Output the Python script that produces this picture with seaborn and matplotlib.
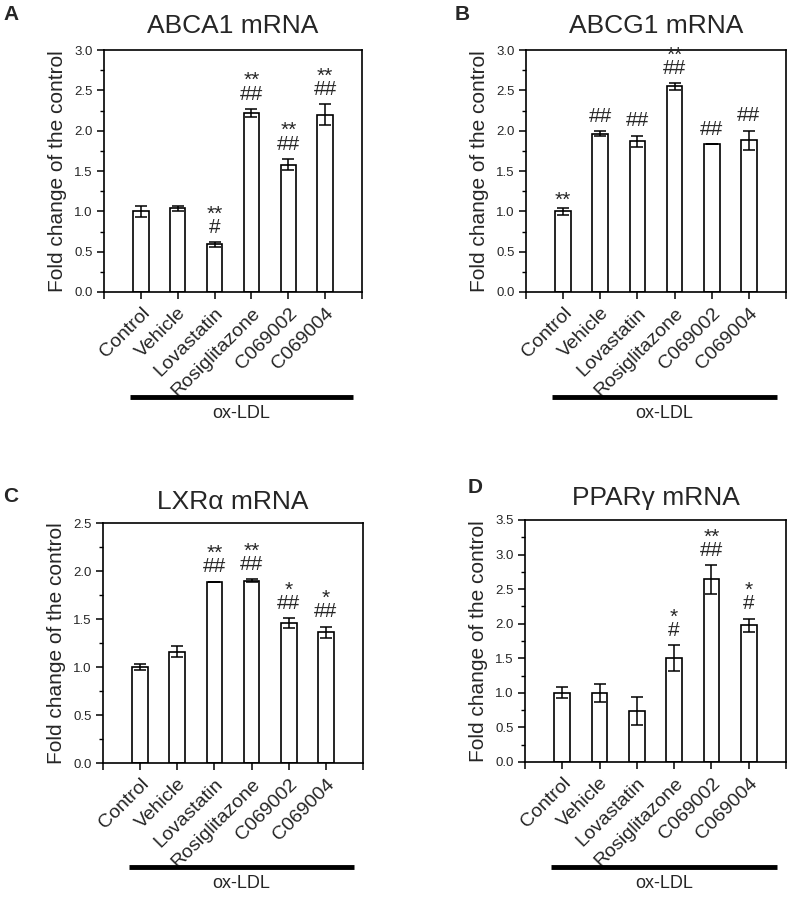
import matplotlib
matplotlib.use("Agg")
import matplotlib.pyplot as plt
import matplotlib.transforms as mtransforms
from matplotlib.ticker import MultipleLocator, FixedLocator
from matplotlib import font_manager
import seaborn as sns
import pandas as pd
import numpy as np

# ---------------- data ----------------
categories = ["Control", "Vehicle", "Lovastatin", "Rosiglitazone", "C069002", "C069004"]

abca1_mean = [1.00, 1.04, 0.59, 2.22, 1.58, 2.20]
abca1_err = [0.07, 0.03, 0.03, 0.05, 0.07, 0.13]
abca1_sig = ["", "", "**\n#", "**\n##", "**\n##", "**\n##"]

abcg1_mean = [1.00, 1.96, 1.87, 2.55, 1.83, 1.88]
abcg1_err = [0.04, 0.03, 0.07, 0.04, 0.0, 0.12]
abcg1_sig = ["**", "##", "##", "**\n##", "##", "##"]

lxra_mean = [1.00, 1.16, 1.89, 1.90, 1.46, 1.36]
lxra_err = [0.03, 0.06, 0.0, 0.015, 0.05, 0.06]
lxra_sig = ["", "", "**\n##", "**\n##", "*\n##", "*\n##"]

pparg_mean = [1.00, 1.00, 0.74, 1.50, 2.64, 1.98]
pparg_err = [0.08, 0.13, 0.20, 0.19, 0.21, 0.095]
pparg_sig = ["", "", "", "*\n#", "**\n##", "*\n#"]

titles = ["ABCA1 mRNA", "ABCG1 mRNA", "LXRα mRNA", "PPARγ mRNA"]
letters = ["A", "B", "C", "D"]
ymax = [3.0, 3.0, 2.5, 3.5]
group_label = "ox-LDL"
ylabel = "Fold change of the control"

# ---------------- style ----------------
sns.set_style("ticks")
installed = {f.name for f in font_manager.fontManager.ttflist}
main_font = "Liberation Sans" if "Liberation Sans" in installed else "DejaVu Sans"
narrow_font = "Liberation Sans Narrow" if "Liberation Sans Narrow" in installed else main_font
plt.rcParams["font.family"] = [main_font, "DejaVu Sans"]

fig = plt.figure(figsize=(7.96, 9.08), dpi=100)

W, H = 796.0, 908.0
# axes boxes in pixels: left, top, right, bottom
boxes = [(104, 50, 362, 292), (526, 50, 786, 292),
         (103, 523, 363, 763), (525, 520, 786, 762)]
title_pads = [12.5, 12.5, 10, 11]
letter_pos = [(3, 15), (455, 15), (3, 497), (468, 488)]

panels = [
    (abca1_mean, abca1_err, abca1_sig),
    (abcg1_mean, abcg1_err, abcg1_sig),
    (lxra_mean, lxra_err, lxra_sig),
    (pparg_mean, pparg_err, pparg_sig),
]

for k, (means, errs, sigs) in enumerate(panels):
    l, t, r, b = boxes[k]
    ax = fig.add_axes([l / W, 1 - b / H, (r - l) / W, (b - t) / H])
    df = pd.DataFrame({"group": categories, "value": means})
    sns.barplot(data=df, x="group", y="value", ax=ax, color="white",
                edgecolor="black", linewidth=1.2, width=0.42, saturation=1,
                errorbar=None)
    xs = list(range(len(categories)))
    ax.errorbar(xs, means, yerr=errs, fmt="none", ecolor="black",
                elinewidth=1.1, capsize=4, capthick=1.1, zorder=3)
    for x, m, e, s in zip(xs, means, errs, sigs):
        if not s:
            continue
        off = 3.8 if "#" in s else -1.5
        ax.annotate(s, xy=(x, m + e), xytext=(0, off),
                    textcoords="offset points", ha="center", va="bottom",
                    multialignment="center", fontsize=15, linespacing=0.62)
    yt = np.arange(0, ymax[k] + 0.01, 0.5)
    ax.set_yticks(yt)
    ax.set_yticklabels([f"{v:.1f}" for v in yt],
                       family=[narrow_font, "DejaVu Sans"], fontsize=9.5)
    ax.yaxis.set_minor_locator(MultipleLocator(0.25))
    ax.xaxis.set_minor_locator(FixedLocator([-1, 6]))
    ax.set_xticks(xs)
    ax.set_xticklabels(categories, rotation=45, ha="right", va="top",
                       rotation_mode="anchor", fontsize=14)
    ax.set_xlim(-1, 6)
    ax.set_ylim(0, ymax[k])
    ax.tick_params(axis="both", which="major", direction="out", length=5,
                   width=1.1, color="black", pad=3)
    ax.tick_params(axis="y", which="minor", direction="out", length=3,
                   width=1.0, color="black")
    ax.tick_params(axis="x", which="minor", direction="out", length=5,
                   width=1.1, color="black")
    ax.tick_params(axis="x", which="major", pad=4)
    for sp in ax.spines.values():
        sp.set_visible(True)
        sp.set_linewidth(1.2)
        sp.set_color("black")
    ax.set_xlabel("")
    ax.set_ylabel(ylabel, fontsize=15, labelpad=5)
    ax.set_title(titles[k], fontsize=19, pad=title_pads[k])

    # ox-LDL bracket line and label
    trans = mtransforms.blended_transform_factory(ax.transData, ax.transAxes)
    yline = -0.435
    ax.plot([-0.3, 5.75], [yline, yline], color="black", lw=3.5,
            transform=trans, clip_on=False, solid_capstyle="butt")
    ax.text(2.72, yline - 0.03, group_label, transform=trans, ha="center",
            va="top", fontsize=13)

    lx, ly = letter_pos[k]
    fig.text(lx / W, 1 - ly / H, letters[k], fontsize=15, fontweight="bold",
             ha="left", va="center", family=[main_font, "DejaVu Sans"])

fig.savefig("out.png", dpi=100, facecolor="white")
